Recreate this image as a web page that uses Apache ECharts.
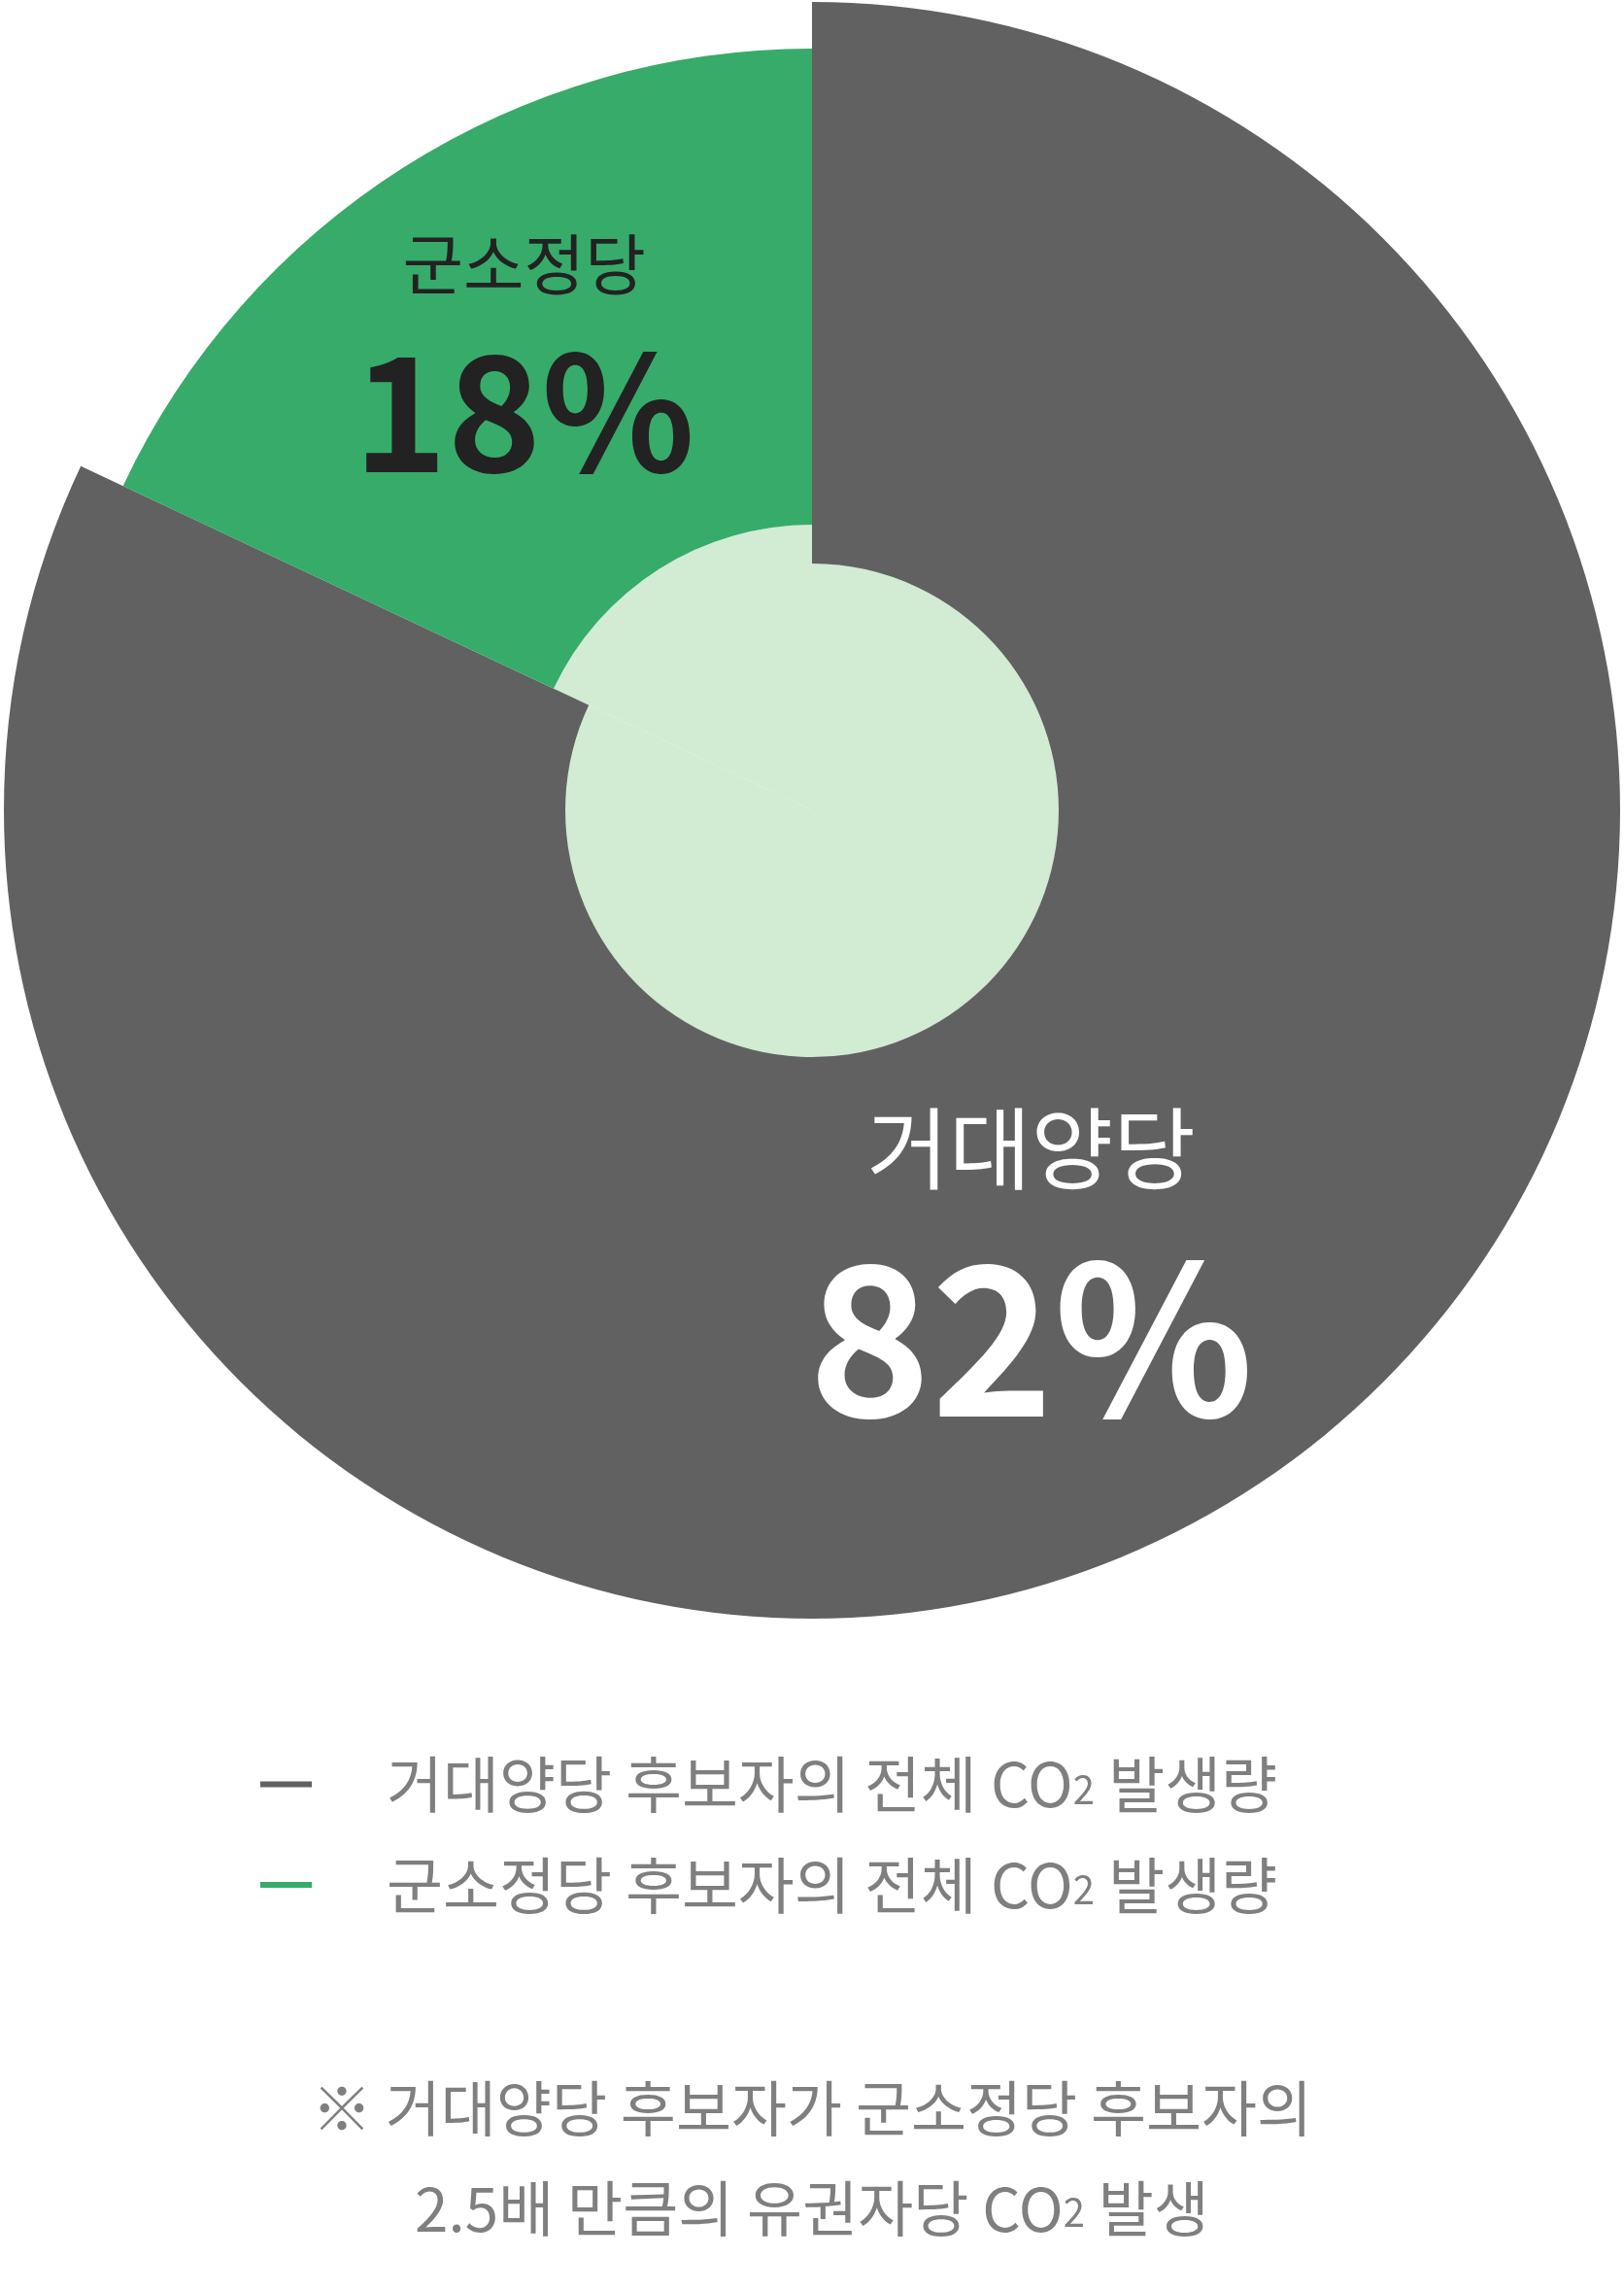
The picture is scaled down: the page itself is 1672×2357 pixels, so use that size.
<!DOCTYPE html>
<html>
<head>
<meta charset="utf-8">
<script src="https://cdn.jsdelivr.net/npm/echarts@6/dist/echarts.min.js"></script>
<style>
  body { margin: 0; background: #fff; }
  #pie { width: 1672px; height: 2357px; }
</style>
</head>
<body>
<div id="pie"></div>
<script>
// 후보자 CO2 발생량 비율
var partyNames = ['거대양당', '군소정당']
var partyShares = [82, 18]
var partyColors = ['#616161', '#37ab6a']
var legendTail = ['후보자의 전체 CO', '2', ' 발생량']
var noteLine1 = '※ 거대양당 후보자가 군소정당 후보자의'
var noteLine2 = ['2.5배 만큼의 유권자당 CO', '2', ' 발생']

var FONT = 'Noto Sans CJK KR'
var CX = 836, CY = 834

function sliceData(showIdx){
    return partyNames.map(function(n, i){
        if (i !== showIdx) {
            return { name: n, value: partyShares[i], itemStyle: { color: 'rgba(0,0,0,0)' }, label: { show: false } }
        }
        var big = i === 0
        return {
            name: n,
            value: partyShares[i],
            itemStyle: { color: partyColors[i] },
            label: {
                show: true,
                position: 'inside',
                offset: big ? [-67, 5] : [-6, -14],
                formatter: '{n|{b}}\n{p|{d}%}',
                rich: {
                    n: { fontFamily: FONT, fontSize: big ? 92 : 68, lineHeight: big ? 153 : 122, color: big ? '#fff' : '#222' },
                    p: { fontFamily: FONT, fontSize: big ? 214 : 164, fontWeight: 'bold', lineHeight: big ? 235 : 180, color: big ? '#fff' : '#222' }
                }
            }
        }
    })
}

var myChart = echarts.init(document.getElementById('pie'))
myChart.setOption({
    backgroundColor: '#fff',
    animation: false,
    title: {
        left: 'center',
        top: 2114,
        text: '{t|' + noteLine1 + '}\n{t|' + noteLine2[0] + '}{s|' + noteLine2[1] + '}{t|' + noteLine2[2] + '}',
        textStyle: {
            fontWeight: 'normal',
            rich: {
                t: { fontFamily: FONT, fontSize: 62, fontWeight: 'normal', lineHeight: 103, color: '#7f7f7f' },
                s: { fontFamily: FONT, fontSize: 40, fontWeight: 'normal', lineHeight: 40, verticalAlign: 'bottom', padding: [0, 0, 28, 0], color: '#7f7f7f' }
            }
        }
    },
    legend: {
        orient: 'vertical',
        left: 263,
        top: 1800,
        icon: 'rect',
        itemWidth: 53,
        itemHeight: 6,
        itemGap: 39,
        selectedMode: false,
        data: partyNames.map(function(n, i){
            return { name: n, itemStyle: { color: partyColors[i] } }
        }),
        formatter: function(name){
            return '{t|' + name + ' ' + legendTail[0] + '}{s|' + legendTail[1] + '}{t|' + legendTail[2] + '}'
        },
        textStyle: {
            padding: [0, 0, 0, 72],
            rich: {
                t: { fontFamily: FONT, fontSize: 63, lineHeight: 66, color: '#7f7f7f' },
                s: { fontFamily: FONT, fontSize: 40, lineHeight: 40, verticalAlign: 'bottom', padding: [0, 0, 8, 0], color: '#7f7f7f' }
            }
        }
    },
    series: [
        {
            // 가운데 연한 원
            type: 'pie',
            silent: true,
            center: [CX, CY],
            radius: [0, 294],
            startAngle: 90,
            label: { show: false },
            labelLine: { show: false },
            itemStyle: { color: '#d2ebd3', borderWidth: 0 },
            data: partyShares.map(function(v, i){ return { name: 'core' + i, value: v } })
        },
        {
            type: 'pie',
            silent: true,
            center: [CX, CY],
            radius: [254, 832],
            startAngle: 90,
            percentPrecision: 0,
            avoidLabelOverlap: false,
            labelLine: { show: false },
            itemStyle: { borderWidth: 0 },
            data: sliceData(0)
        },
        {
            type: 'pie',
            silent: true,
            center: [CX, CY],
            radius: [294, 784],
            startAngle: 90,
            percentPrecision: 0,
            avoidLabelOverlap: false,
            labelLine: { show: false },
            itemStyle: { borderWidth: 0 },
            data: sliceData(1)
        }
    ]
})
</script>
</body>
</html>
